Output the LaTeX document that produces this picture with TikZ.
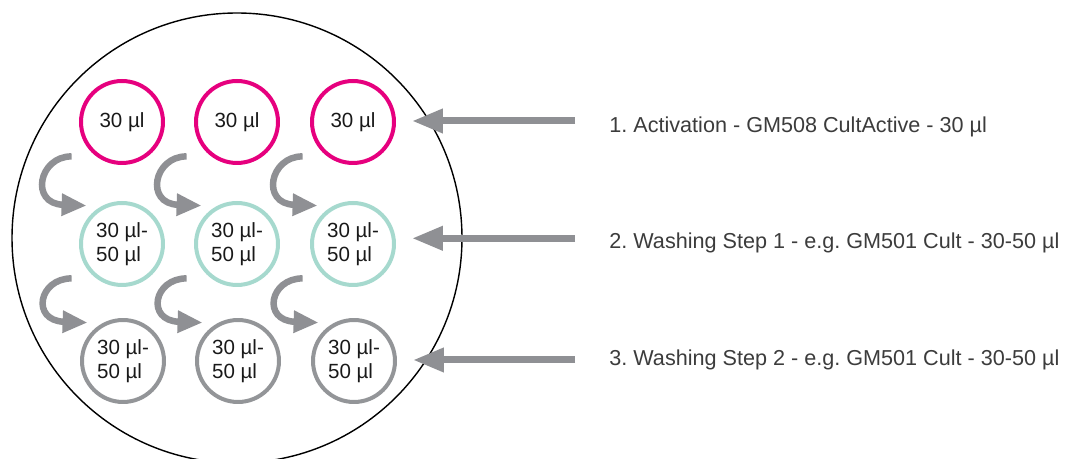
\documentclass[tikz,border=0pt]{standalone}
\usepackage{fontspec}
\setmainfont{Liberation Sans}
\frenchspacing
\usetikzlibrary{arrows.meta,calc}
\definecolor{wellpink}{RGB}{230,0,126}
\definecolor{wellteal}{RGB}{166,217,206}
\definecolor{wellgrey}{RGB}{147,149,152}
\definecolor{arrowgrey}{RGB}{143,144,148}
\definecolor{textgrey}{RGB}{60,60,60}
\tikzset{
  well/.style={circle,draw,line width=0.08cm,minimum size=1.64cm,inner sep=0pt,
    align=left,text=black!90,font=\fontsize{11.7}{13.6}\selectfont},
  activ/.style={well,draw=wellpink},
  washa/.style={well,draw=wellteal},
  washb/.style={well,draw=wellgrey},
  flow/.style={draw=arrowgrey,line width=0.14cm,-{Triangle[length=0.62cm,width=0.46cm]}},
  transfer/.style={draw=arrowgrey,line width=0.13cm,-{Triangle[length=0.5cm,width=0.42cm]}},
  steplabel/.style={anchor=west,inner sep=0pt,text=textgrey,font=\fontsize{12.3}{14}\selectfont}
}

\begin{document}
\begin{tikzpicture}[x=0.02cm,y=0.02cm]
			\useasboundingbox (0,0) rectangle (1065,459);
			% the plate
			\draw[line width=0.8pt] (237,221) circle (225);
			% wells
			\node[activ] (w11) at (122,337) {30 µl};
			\node[activ] (w12) at (237,337) {30 µl};
			\node[activ] (w13) at (353,337) {30 µl};
			\node[washa] (w21) at (122,215) {30 µl-\\50 µl};
			\node[washa] (w22) at (237,215) {30 µl-\\50 µl};
			\node[washa] (w23) at (353,215) {30 µl-\\50 µl};
			\node[washb] (w31) at (123,98) {30 µl-\\50 µl};
			\node[washb] (w32) at (238,98) {30 µl-\\50 µl};
			\node[washb] (w33) at (354,98) {30 µl-\\50 µl};
			% steps
			\node[steplabel] (l1) at (609,332.2) {1. Activation - GM508 CultActive - 30 µl};
			\node[steplabel] (l2) at (609,215.8) {2. Washing Step 1 - e.g. GM501 Cult - 30-50 µl};
			\node[steplabel] (l3) at (609,98.8) {3. Washing Step 2 - e.g. GM501 Cult - 30-50 µl};
			\draw[flow] ($(l1.west)+(-34,5.8)$) -- ($(l1.west -| w13.east)+(16,5.8)$);
			\draw[flow] ($(l2.west)+(-34,4.9)$) -- ($(l2.west -| w23.east)+(16,4.9)$);
			\draw[flow] ($(l3.west)+(-34,0.2)$) -- ($(l3.west -| w33.east)+(16,0.2)$);
			% transfers
			\draw[transfer] ([shift={(-20,-4)}]w11.south west) .. controls +(-33,0) and +(-57,2) .. ([shift={(-5,8)}]w21.north west);
			\draw[transfer] ([shift={(-20,-4)}]w12.south west) .. controls +(-33,0) and +(-57,2) .. ([shift={(-5,8)}]w22.north west);
			\draw[transfer] ([shift={(-20,-4)}]w13.south west) .. controls +(-33,0) and +(-57,2) .. ([shift={(-5,8)}]w23.north west);
			\draw[transfer] ([shift={(-20,-4)}]w21.south west) .. controls +(-33,0) and +(-57,2) .. ([shift={(-5,8)}]w31.north west);
			\draw[transfer] ([shift={(-20,-4)}]w22.south west) .. controls +(-33,0) and +(-57,2) .. ([shift={(-5,8)}]w32.north west);
			\draw[transfer] ([shift={(-20,-4)}]w23.south west) .. controls +(-33,0) and +(-57,2) .. ([shift={(-5,8)}]w33.north west);
		\end{tikzpicture}
\end{document}
